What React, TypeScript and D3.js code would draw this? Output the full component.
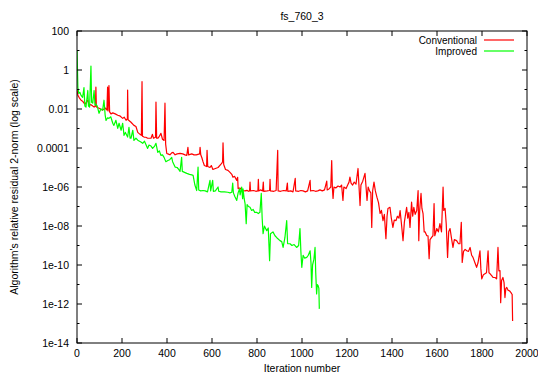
import React from "react";
import * as d3 from "d3";

// Chart text
const title = "fs_760_3";
const xLabel = "Iteration number";
const yLabel = "Algorithm's relative residual 2-norm (log scale)";
const seriesNames = ["Conventional", "Improved"];

// Axis ticks
const xTicks = [0, 200, 400, 600, 800, 1000, 1200, 1400, 1600, 1800, 2000];
const yMajorExps = [2, 0, -2, -4, -6, -8, -10, -12, -14];
const yMajorLabels = ["100", "1", "0.01", "0.0001", "1e-06", "1e-08", "1e-10", "1e-12", "1e-14"];
const yMinorExps = [1, -1, -3, -5, -7, -9, -11, -13];

// Series: [iteration, log10(relative residual)]
const conventional: [number, number][] = [
  [0, -1.0], [4, -1.3], [9, -1.4], [18, -1.55], [25, -1.6], [31, -1.7], [36, -1.75], [44, -1.6], [48, -1.55],
  [53, -1.8], [62, -1.78], [70, -1.85], [76, -1.9], [82, -1.85], [84, -0.88], [86, -1.9], [98, -1.96],
  [105, -2.0], [114, -2.06], [125, -1.95], [133, -2.05], [136, -0.88], [138, -2.1], [142, -0.8], [145, -2.15],
  [151, -2.25], [159, -2.2], [170, -2.25], [181, -2.32], [190, -2.35], [203, -2.48], [210, -2.42], [218, -2.58],
  [224, -2.5], [225, -1.03], [227, -2.55], [240, -2.68], [253, -2.84], [262, -2.9], [270, -3.2], [280, -3.3],
  [286, -3.35], [289, -0.6], [291, -3.4], [298, -3.44], [306, -3.45], [314, -3.5], [322, -3.5], [329, -3.5],
  [335, -3.3], [340, -3.5], [349, -3.45], [351, -1.64], [354, -3.5], [359, -3.5], [366, -3.4], [373, -3.25],
  [380, -3.55], [387, -3.61], [391, -1.7], [394, -3.8], [399, -4.28], [404, -4.3], [413, -4.35], [421, -4.25],
  [427, -4.22], [436, -4.35], [445, -4.3], [458, -4.28], [470, -4.3], [480, -4.35], [488, -4.38], [493, -3.97],
  [496, -4.35], [510, -4.3], [520, -4.35], [530, -4.35], [545, -4.3], [547, -3.97], [550, -4.35], [555, -4.5],
  [560, -4.7], [566, -4.9], [576, -4.95], [578, -4.12], [581, -4.95], [591, -5.0], [597, -4.9], [604, -5.1],
  [615, -5.05], [627, -5.0], [638, -4.85], [643, -4.79], [647, -4.7], [649, -3.73], [652, -4.85], [660, -5.1],
  [671, -5.15], [680, -5.25], [688, -5.35], [693, -5.5], [700, -5.45], [710, -5.66], [714, -5.5], [716, -6.08],
  [724, -6.05], [732, -6.15], [738, -6.18], [747, -6.2], [755, -6.17], [762, -6.22], [767, -6.2], [769, -5.75],
  [771, -6.2], [785, -6.18], [795, -6.22], [804, -6.2], [806, -5.61], [808, -6.2], [815, -6.15], [825, -6.2],
  [828, -5.75], [830, -6.22], [845, -6.2], [856, -6.18], [858, -5.61], [860, -6.2], [875, -6.22], [885, -6.18],
  [892, -4.12], [894, -6.2], [905, -6.22], [918, -6.18], [930, -6.2], [935, -5.8], [937, -6.22], [950, -6.2],
  [960, -6.25], [970, -5.56], [972, -6.2], [985, -6.22], [995, -6.18], [1005, -6.2], [1015, -6.25], [1025, -6.2],
  [1036, -5.66], [1038, -6.2], [1050, -6.18], [1060, -6.22], [1070, -6.2], [1080, -6.15], [1090, -6.2],
  [1100, -6.15], [1110, -5.7], [1112, -6.15], [1120, -6.1], [1128, -6.0], [1132, -4.64], [1135, -6.05],
  [1138, -6.59], [1142, -6.0], [1150, -6.05], [1160, -5.95], [1169, -6.0], [1176, -5.9], [1182, -6.69],
  [1186, -6.0], [1196, -6.08], [1203, -5.9], [1209, -5.75], [1213, -5.49], [1218, -5.8], [1225, -5.9],
  [1232, -5.75], [1240, -5.85], [1249, -5.05], [1253, -5.9], [1258, -6.95], [1262, -5.9], [1270, -5.7],
  [1280, -5.3], [1284, -5.9], [1289, -6.69], [1294, -6.0], [1300, -6.2], [1306, -6.3], [1310, -8.07],
  [1314, -6.2], [1320, -5.75], [1326, -6.2], [1333, -6.52], [1340, -6.8], [1347, -7.36], [1353, -7.2],
  [1360, -7.72], [1366, -7.4], [1373, -8.65], [1378, -7.5], [1382, -7.1], [1391, -7.04], [1397, -7.6],
  [1404, -8.07], [1410, -7.7], [1418, -7.72], [1424, -7.5], [1431, -7.6], [1436, -7.21], [1443, -8.0],
  [1449, -8.75], [1455, -7.8], [1465, -7.04], [1470, -7.6], [1475, -7.3], [1480, -8.07], [1487, -6.78],
  [1492, -7.5], [1497, -7.04], [1503, -7.4], [1510, -7.21], [1516, -6.18], [1519, -8.75], [1523, -7.2],
  [1529, -6.33], [1533, -7.1], [1538, -7.36], [1543, -8.3], [1547, -8.3], [1554, -8.49], [1560, -8.5],
  [1565, -9.68], [1569, -8.7], [1576, -8.58], [1582, -8.5], [1587, -6.85], [1590, -8.5], [1599, -8.13],
  [1606, -8.3], [1613, -7.88], [1620, -8.3], [1627, -6.01], [1630, -7.2], [1636, -7.1], [1641, -7.9],
  [1647, -9.61], [1652, -8.3], [1658, -8.13], [1664, -8.6], [1671, -9.1], [1677, -8.7], [1687, -8.75],
  [1695, -8.9], [1702, -8.91], [1708, -7.81], [1712, -9.87], [1718, -9.3], [1725, -9.2], [1732, -9.27],
  [1740, -9.3], [1747, -9.1], [1754, -9.5], [1760, -9.61], [1769, -9.9], [1776, -10.12], [1782, -9.9],
  [1791, -9.27], [1795, -10.2], [1799, -10.71], [1806, -10.5], [1813, -10.45], [1820, -10.4], [1827, -9.27],
  [1831, -10.4], [1836, -10.45], [1843, -10.55], [1849, -10.64], [1858, -10.64], [1865, -10.71], [1871, -9.1],
  [1875, -10.3], [1880, -10.29], [1883, -11.93], [1887, -10.8], [1893, -10.64], [1898, -10.9], [1902, -11.67],
  [1906, -11.2], [1910, -11.15], [1916, -11.3], [1922, -11.32], [1928, -11.4], [1932, -11.48], [1934, -11.5],
  [1936, -12.87],
];

const improved: [number, number][] = [
  [0, 1.0], [2, 0.1], [4, -0.9], [8, -1.2], [13, -1.15], [18, -1.3], [25, -1.4], [31, -0.9], [35, -1.85],
  [40, -1.9], [48, -1.05], [51, -1.85], [56, -1.9], [62, 0.2], [65, -1.65], [70, -1.7], [76, -1.05], [80, -1.8],
  [84, -1.75], [90, -1.85], [98, -2.22], [106, -2.0], [114, -2.06], [120, -1.55], [125, -2.3], [129, -2.58],
  [136, -2.45], [142, -2.48], [150, -2.4], [159, -2.73], [164, -2.84], [173, -2.58], [181, -2.99], [187, -2.73],
  [196, -3.09], [203, -2.73], [209, -3.35], [215, -3.2], [225, -3.44], [231, -2.94], [236, -3.5], [240, -3.5],
  [248, -3.09], [253, -3.61], [262, -3.5], [270, -3.6], [284, -3.69], [292, -3.76], [300, -3.65], [314, -4.02],
  [320, -3.85], [329, -3.9], [336, -4.02], [345, -3.9], [351, -3.76], [359, -4.22], [366, -4.15], [373, -4.38],
  [380, -4.35], [387, -4.48], [395, -4.7], [404, -4.64], [412, -4.6], [421, -4.48], [425, -4.7], [436, -4.98],
  [445, -5.0], [452, -5.1], [458, -5.2], [465, -4.48], [468, -5.2], [478, -5.25], [488, -5.3], [500, -5.35],
  [510, -5.38], [516, -5.4], [524, -5.9], [532, -6.18], [538, -4.98], [541, -6.15], [550, -6.2], [560, -6.18],
  [570, -6.2], [580, -6.25], [591, -5.66], [594, -6.2], [603, -5.66], [606, -6.22], [615, -6.2], [627, -6.0],
  [630, -6.22], [640, -6.25], [655, -6.25], [670, -6.27], [680, -6.3], [688, -6.27], [692, -5.8], [695, -6.3],
  [702, -6.5], [710, -6.69], [716, -6.3], [722, -6.1], [725, -6.4], [732, -6.01], [736, -6.6], [738, -6.1],
  [743, -6.6], [747, -6.85], [752, -7.88], [756, -6.9], [762, -7.0], [769, -7.04], [776, -7.2], [783, -7.15],
  [790, -7.3], [798, -7.3], [806, -7.36], [813, -7.3], [819, -6.33], [823, -7.6], [827, -8.39], [833, -8.0],
  [843, -8.24], [850, -8.1], [856, -9.78], [860, -8.4], [871, -8.3], [880, -8.5], [888, -8.6], [902, -8.75],
  [910, -8.8], [916, -9.1], [924, -8.6], [932, -7.72], [936, -8.9], [947, -8.91], [955, -9.0], [965, -8.95],
  [976, -9.1], [985, -9.0], [991, -8.13], [995, -9.3], [999, -10.12], [1005, -9.5], [1012, -9.65], [1021, -9.61],
  [1028, -9.5], [1036, -9.27], [1040, -9.9], [1043, -11.15], [1047, -10.0], [1053, -9.7], [1058, -9.1],
  [1061, -10.4], [1065, -11.48], [1068, -11.0], [1072, -11.07], [1075, -11.2], [1077, -12.25],
];

const colors = ["#ff0000", "#00ff00"];

const W = 538;
const H = 376;
const left = 77;
const right = 527;
const top = 31;
const bottom = 343;
const font = "'Liberation Sans', Arial, Helvetica, sans-serif";
const fs = 10.5;
const legendFs = 10;

export default function App() {
  const x = d3.scaleLinear().domain([0, 2000]).range([left, right]);
  const y = d3.scaleLog().domain([1e-14, 100]).range([bottom, top]);
  const line = d3
    .line<[number, number]>()
    .x((d) => x(d[0]))
    .y((d) => y(Math.pow(10, d[1])));
  const series = [conventional, improved];

  return (
    <div style={{ position: "fixed", left: 0, top: 0 }}>
      <svg width={W} height={H} style={{ display: "block", background: "#fff" }} fontFamily={font}>
        <defs>
          <clipPath id="plot">
            <rect x={left} y={top} width={right - left} height={bottom - top} />
          </clipPath>
        </defs>
        <text x={(left + right) / 2} y={20} fontSize={fs} textAnchor="middle">{title}</text>

        {/* series */}
        <g clipPath="url(#plot)">
          {series.map((s, i) => (
            <path key={i} d={line(s) || ""} fill="none" stroke={colors[i]} strokeWidth={1.2} strokeLinejoin="round" />
          ))}
        </g>

        {/* frame */}
        <rect x={left} y={top} width={right - left} height={bottom - top} fill="none" stroke="#000" strokeWidth={1} />

        {/* x ticks */}
        {xTicks.map((t) => (
          <g key={"x" + t}>
            <line x1={x(t)} x2={x(t)} y1={bottom} y2={bottom - 5} stroke="#000" />
            <line x1={x(t)} x2={x(t)} y1={top} y2={top + 5} stroke="#000" />
            <text x={x(t)} y={357} fontSize={fs} textAnchor="middle">{t}</text>
          </g>
        ))}

        {/* y ticks */}
        {yMajorExps.map((e, i) => (
          <g key={"y" + e}>
            <line x1={left} x2={left + 5} y1={y(Math.pow(10, e))} y2={y(Math.pow(10, e))} stroke="#000" />
            <line x1={right} x2={right - 5} y1={y(Math.pow(10, e))} y2={y(Math.pow(10, e))} stroke="#000" />
            <text x={69} y={y(Math.pow(10, e))} dy="0.35em" fontSize={fs} textAnchor="end">{yMajorLabels[i]}</text>
          </g>
        ))}
        {yMinorExps.map((e) => (
          <g key={"ym" + e}>
            <line x1={left} x2={left + 2.5} y1={y(Math.pow(10, e))} y2={y(Math.pow(10, e))} stroke="#000" />
            <line x1={right} x2={right - 2.5} y1={y(Math.pow(10, e))} y2={y(Math.pow(10, e))} stroke="#000" />
          </g>
        ))}

        {/* axis labels */}
        <text x={(left + right) / 2} y={372} fontSize={fs} textAnchor="middle">{xLabel}</text>
        <text transform={`translate(18,${(top + bottom) / 2}) rotate(-90)`} fontSize={fs} textAnchor="middle">{yLabel}</text>

        {/* legend */}
        {seriesNames.map((n, i) => (
          <g key={n}>
            <text x={477} y={40 + i * 11} dy="0.35em" fontSize={legendFs} textAnchor="end">{n}</text>
            <line x1={484} x2={514} y1={40 + i * 11} y2={40 + i * 11} stroke={colors[i]} strokeWidth={1.2} />
          </g>
        ))}
      </svg>
    </div>
  );
}
